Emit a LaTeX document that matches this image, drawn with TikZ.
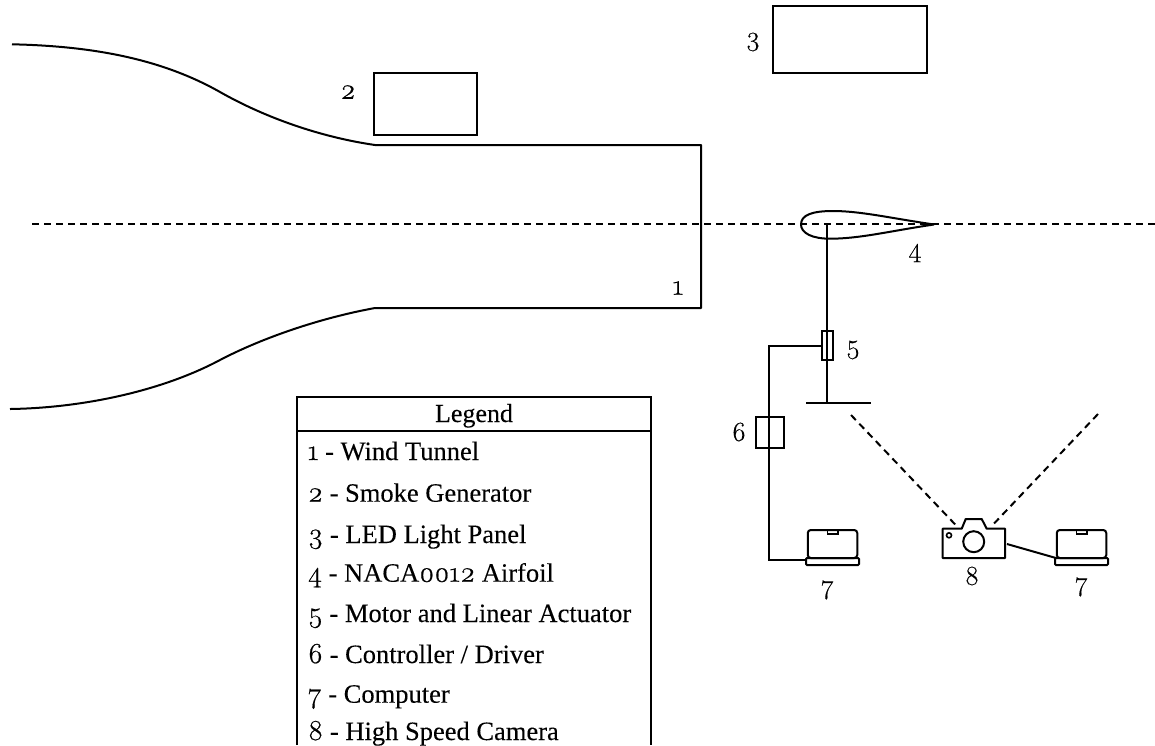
\documentclass[tikz,border=0pt]{standalone}
\usepackage{fontspec}
\setmainfont[FakeBold=0.15]{Liberation Serif}
\newfontfamily\lmfont[FakeBold=0.35]{Latin Modern Roman}
\newfontfamily\osf[Numbers=OldStyle,FakeBold=0.6]{Latin Modern Roman}
\newcommand{\od}[1]{{\osf\fontsize{29}{29}\selectfont #1}}
\tikzset{
  x=1pt,y=-1pt,
  wire/.style={line width=2pt,black,line join=miter},
  boxed/.style={draw=black,line width=2pt,fill=none,inner sep=0pt,outer sep=0pt,rectangle},
  sightline/.style={line width=2pt,black,dash pattern=on 7pt off 5pt},
  numlabel/.style={inner sep=0pt,font=\lmfont\fontsize{27.5}{27.5}\selectfont},
  legendrow/.style={anchor=base west,inner sep=0pt,font=\fontsize{26.5}{26.5}\selectfont},
}
\newcommand{\laptop}[2]{% x offset, name
  \node[boxed,rounded corners=3pt,minimum width=49.5pt,minimum height=28pt] (#2screen) at (832.5+#1,544) {};
  \node[boxed,rounded corners=1pt,minimum width=53pt,minimum height=7pt] (#2) at (832.5+#1,561.5) {};
  \node[boxed,line width=1.5pt,minimum width=10.5pt,minimum height=4pt] (#2notch) at (832.5+#1,532) {};
}
\begin{document}
\begin{tikzpicture}
\useasboundingbox (0,0) rectangle (1155,745);
% centre line
\coordinate (axisL) at (32,224);
\coordinate (axisR) at (1155,224);
\draw[sightline] (axisL) -- (axisR);
% tunnel
\coordinate (t0) at (12,44.3);
\coordinate (t1) at (375,145);
\coordinate (t2) at (701,145);
\coordinate (t3) at (701,308);
\coordinate (t4) at (375,308);
\coordinate (t5) at (10,409);
\draw[wire,line join=round] (t0) .. controls (90,46) and (160,58) .. (220,92)
  .. controls (265,117.5) and (320,137) .. (t1) -- (t2) -- (t3) -- (t4)
  .. controls (320,318) and (262,338) .. (220,360)
  .. controls (160,392) and (80,408) .. (t5);
% boxes
\node[boxed,minimum width=103pt,minimum height=61.7pt] (smoke) at (425,103.9) {};
\node[boxed,minimum width=154pt,minimum height=67pt] (led) at (849.7,39) {};
% airfoil
\draw[wire,fill=none] (934,224.5) .. controls (890,218) and (860,211) .. (833,211)
  .. controls (812,211) and (801,215) .. (801,224.5)
  .. controls (801,233) and (812,238.7) .. (830,238.7)
  .. controls (860,238.7) and (890,231) .. (934,224.5);
% shaft, actuator, plate
\coordinate (shaftTop) at (827,223);
\node[boxed,minimum width=11pt,minimum height=29pt] (act) at (827.5,345.5) {};
\coordinate (plateL) at (806,402.7);
\coordinate (plateR) at (871,402.7);
\coordinate (plateC) at (827,402.7);
\draw[wire] (shaftTop) -- (plateC);
\draw[wire] (plateL) -- (plateR);
% controller
\node[boxed,minimum width=27.7pt,minimum height=31.6pt] (ctrl) at (770,432.5) {};
% laptops
\laptop{0}{pcA}
\laptop{249}{pcB}
\coordinate (elbowA) at (768.5,345.5);
\coordinate (elbowB) at (768.5,560);
\draw[wire] (act.west |- 0,345.5) -- (elbowA) -- (elbowB) -- (pcA.west |- 0,560);
% camera
\coordinate (c1) at (942.7,528.7);
\draw[wire,line join=round] (c1) -- (961.7,528.7) -- (965.7,519) -- (981.7,519) -- (986.7,528.7)
  -- (1005,528.7) -- (1005,558) -- (942.7,558) -- cycle;
\node[circle,draw=black,line width=2pt,minimum size=21pt,inner sep=0pt] (lens) at (973.7,541.7) {};
\node[circle,draw=black,line width=1.6pt,minimum size=5pt,inner sep=0pt] (flash) at (949,535.3) {};
\coordinate (camR) at (1007,544);
\coordinate (pcBin) at (1056,558);
\draw[wire] (camR) -- (pcBin);
% sight lines
\coordinate (s1) at (851,415);
\coordinate (s2) at (957.3,526.7);
\coordinate (s3) at (1098,414);
\coordinate (s4) at (991.7,526);
\draw[sightline] (s1) -- (s2);
\draw[sightline] (s3) -- (s4);
% labels
\node[numlabel] (n1) at (678,288) {\od{1}};
\node[numlabel] (n2) at (348,92) {\od{2}};
\node[numlabel] (n3) at (753,42) {3};
\node[numlabel] (n4) at (915,253) {4};
\node[numlabel] (n5) at (853,350) {5};
\node[numlabel] (n6) at (739,432) {6};
\node[numlabel] (n7a) at (827,590) {7};
\node[numlabel] (n8) at (972,576) {8};
\node[numlabel] (n7b) at (1081,587) {7};
% legend
\coordinate (legTL) at (296.5,396.7);
\coordinate (legTR) at (651,396.7);
\coordinate (legBL) at (296.5,745);
\coordinate (legBR) at (651,745);
\coordinate (legSL) at (296.5,431.3);
\coordinate (legSR) at (651,431.3);
\draw[wire] (legBL) -- (legTL) -- (legTR) -- (legBR);
\draw[wire] (legSL) -- (legSR);
\node[anchor=base,inner sep=0pt,font=\fontsize{26}{26}\selectfont] (legh) at (474,422) {Legend};
\node[legendrow] (l1) at (307.7,460) {\od{1} - Wind Tunnel};
\node[legendrow] (l2) at (307.7,501.7) {\od{2} - Smoke Generator};
\node[legendrow] (l3) at (307.7,543) {\od{3} - LED Light Panel};
\node[legendrow] (l4) at (307.7,581.7) {\od{4} - NACA\od{0012} Airfoil};
\node[legendrow] (l5) at (307.7,622) {\od{5} - Motor and Linear Actuator};
\node[legendrow] (l6) at (307.7,663) {\od{6} - Controller / Driver};
\node[legendrow] (l7) at (307.7,702.7) {\od{7} - Computer};
\node[legendrow] (l8) at (307.7,740) {\od{8} - High Speed Camera};
\end{tikzpicture}
\end{document}
